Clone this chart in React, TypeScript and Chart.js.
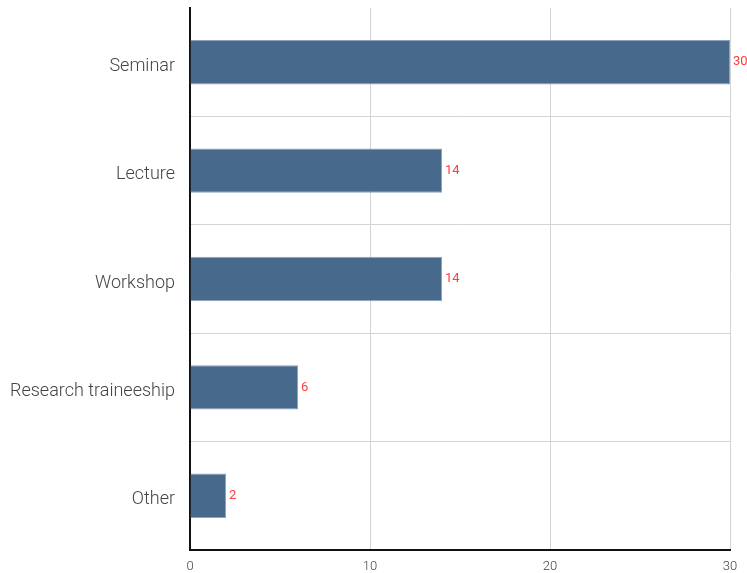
import React, { useEffect, useRef } from "react";
import { Chart, registerables } from "chart.js";

Chart.register(...registerables);

const categories = ["Seminar", "Lecture", "Workshop", "Research traineeship", "Other"];
const values = [30, 14, 14, 6, 2];
const xTicks = [0, 10, 20, 30];

const FONT = "Roboto";

const valueLabels = {
  id: "valueLabels",
  afterDatasetsDraw(chart: any) {
    const ctx = chart.ctx;
    const meta = chart.getDatasetMeta(0);
    ctx.save();
    ctx.fillStyle = "#ff3b3b";
    ctx.font = `13px ${FONT}`;
    ctx.textAlign = "left";
    ctx.textBaseline = "middle";
    meta.data.forEach((bar: any, i: number) => {
      ctx.fillText(String(values[i]), bar.x + 3, bar.y);
    });
    ctx.restore();
  },
};

export default function App() {
  const ref = useRef<HTMLCanvasElement | null>(null);
  useEffect(() => {
    document.body.style.margin = "0";
    const chart = new Chart(ref.current as HTMLCanvasElement, {
      type: "bar",
      data: {
        labels: categories,
        datasets: [
          {
            data: values,
            backgroundColor: "#476a8c",
            borderColor: "rgba(110,140,170,0.8)",
            borderWidth: 1,
            categoryPercentage: 1,
            barPercentage: 0.41,
          },
        ],
      },
      options: {
        indexAxis: "y",
        animation: false,
        responsive: false,
        maintainAspectRatio: false,
        layout: { padding: { top: 8, right: 17, left: 0, bottom: 0 } },
        plugins: { legend: { display: false }, tooltip: { enabled: false } },
        scales: {
          x: {
            min: 0,
            max: 30,
            afterBuildTicks: (scale: any) => {
              scale.ticks = xTicks.map((v) => ({ value: v }));
            },
            afterFit: (scale: any) => {
              scale.height = 23;
              scale.paddingLeft = 0;
              scale.paddingRight = 0;
            },
            grid: { color: "#d4d4d4", drawTicks: false, lineWidth: 1 },
            border: { color: "#111", width: 2 },
            ticks: {
              padding: 9,
              color: "#444",
              font: { family: FONT, size: 13, weight: "300" },
            },
          },
          y: {
            afterFit: (scale: any) => {
              scale.width = 190;
              scale.paddingTop = 0;
              scale.paddingBottom = 0;
            },
            grid: {
              drawTicks: false,
              color: (c: any) => (c.index === 0 ? "rgba(0,0,0,0)" : "#d4d4d4"),
            },
            border: { color: "#111", width: 2 },
            ticks: {
              padding: 15,
              labelOffset: 4,
              color: "#444",
              font: { family: FONT, size: 18, weight: "300" },
            },
          },
        },
      },
      plugins: [valueLabels],
    });
    return () => chart.destroy();
  }, []);
  return (
    <div style={{ position: "absolute", left: 0, top: 0, width: 747, height: 573 }}>
      <canvas ref={ref} width={747} height={573} style={{ width: 747, height: 573 }} />
    </div>
  );
}
